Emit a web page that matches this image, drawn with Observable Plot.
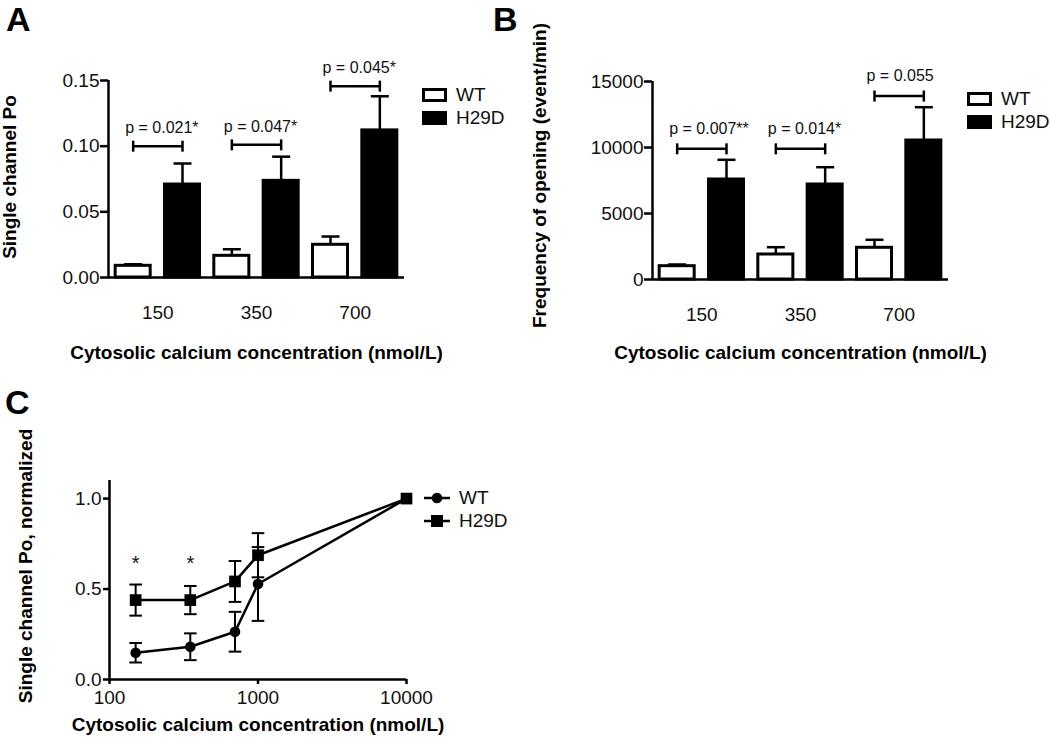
<!DOCTYPE html>
<html>
<head>
<meta charset="utf-8">
<script src="https://cdn.jsdelivr.net/npm/d3@7"></script>
<script src="https://cdn.jsdelivr.net/npm/@observablehq/plot@0.6"></script>
<style>
  html, body { margin: 0; padding: 0; background: #fff; }
  #root { position: relative; width: 1050px; height: 739px; overflow: hidden; background: #fff;
          font-family: "Liberation Sans", Arial, Helvetica, sans-serif; color: #000; }
  .panel { position: absolute; }
  .panel svg { background: transparent !important; }
  .tag { position: absolute; font-weight: bold; font-size: 34px; line-height: 34px; }
  .legend { position: absolute; font-size: 19px; line-height: 19px; color: #111; }
  .legend .row { position: absolute; left: 0; display: flex; align-items: center; white-space: nowrap; }
  .legend .box { box-sizing: border-box; width: 25px; height: 14px; border: 3px solid #000; }
</style>
</head>
<body>
<div id="root">
  <div class="panel" id="pa" style="left:0;top:0;"></div>
  <div class="panel" id="pb" style="left:480px;top:0;"></div>
  <div class="panel" id="pc" style="left:0;top:380px;"></div>
</div>
<script>
// ---------------- data ----------------
const concentrations = [150, 350, 700];
const seriesNames = ["WT", "H29D"];

// Panel A: single channel Po
const poWT = [0.0089, 0.0165, 0.0249];
const poWTErr = [0.0012, 0.0050, 0.0063];
const poH29D = [0.0708, 0.0736, 0.1120];
const poH29DErr = [0.0160, 0.0184, 0.0260];
const poPText = ["p = 0.021*", "p = 0.047*", "p = 0.045*"];
const poBracketY = [0.100, 0.101, 0.1457];
const poTicks = [0, 0.05, 0.10, 0.15];

// Panel B: frequency of opening
const freqWT = [1008, 1894, 2402];
const freqWTErr = [130, 553, 606];
const freqH29D = [7576, 7197, 10530];
const freqH29DErr = [1492, 1310, 2523];
const freqPText = ["p = 0.007**", "p = 0.014*", "p = 0.055"];
const freqBracketY = [9900, 9900, 13900];
const freqTicks = [0, 5000, 10000, 15000];

// Panel C: normalized Po vs concentration (log)
const normConc = [150, 350, 700, 1000, 10000];
const normWT = [0.148, 0.181, 0.264, 0.528, 1.0];
const normWTErr = [0.054, 0.074, 0.110, 0.204, 0];
const normH29D = [0.439, 0.439, 0.542, 0.687, 1.0];
const normH29DErr = [0.086, 0.078, 0.113, 0.122, 0];
const starConc = [150, 350];
const starLevel = 0.64;
const normYTicks = [0, 0.5, 1.0];
const normXTicks = [100, 1000, 10000];

const xTitle = "Cytosolic calcium concentration (nmol/L)";

// ---------------- helpers ----------------
const hline = {draw(ctx, size) { const w = Math.sqrt(size / Math.PI); ctx.moveTo(-w, 0); ctx.lineTo(w, 0); }};
const vline = {draw(ctx, size) { const h = Math.sqrt(size / Math.PI); ctx.moveTo(0, -h); ctx.lineTo(0, h); }};
const FONT = "Liberation Sans, Arial, Helvetica, sans-serif";
const BAR_HALF = 0.355;

function barPanel(o) {
  const rows = [];
  concentrations.forEach((c, i) => {
    rows.push({conc: c, series: "WT", slot: 2 * i, value: o.wt[i], err: o.wtErr[i]});
    rows.push({conc: c, series: "H29D", slot: 2 * i + 1, value: o.h29d[i], err: o.h29dErr[i]});
  });
  const brackets = concentrations.map((c, i) => ({x1: 2 * i, x2: 2 * i + 1, y: o.bracketY[i], text: o.pText[i]}));
  const ends = brackets.flatMap(b => [{x: b.x1, y: b.y}, {x: b.x2, y: b.y}]);
  const yMax = o.ticks[o.ticks.length - 1];
  return Plot.plot({
    width: o.width, height: o.height,
    marginLeft: o.ml, marginRight: o.mr, marginTop: o.mt, marginBottom: o.mb,
    style: {fontFamily: FONT, fontSize: "19px", color: "#000", background: "transparent"},
    x: {type: "linear", domain: [-0.5, 5.5]},
    y: {domain: [0, yMax]},
    color: {domain: seriesNames, range: ["#fff", "#000"]},
    marks: [
      Plot.ruleX(rows, {x: "slot", y1: "value", y2: d => d.value + d.err, stroke: "#000", strokeWidth: 2.5}),
      Plot.rect(rows, {x1: d => d.slot - BAR_HALF, x2: d => d.slot + BAR_HALF, y1: 0, y2: "value",
        fill: "series", stroke: "#000", strokeWidth: 3}),
      Plot.dot(rows, {x: "slot", y: d => d.value + d.err, symbol: hline, r: 9, fill: "none", stroke: "#000", strokeWidth: 2.5}),
      Plot.ruleY(brackets, {x1: "x1", x2: "x2", y: "y", stroke: "#000", strokeWidth: 2.5}),
      Plot.dot(ends, {x: "x", y: "y", symbol: vline, r: 5.5, fill: "none", stroke: "#000", strokeWidth: 2.5}),
      Plot.text(brackets, {x: "x1", y: "y", text: "text", textAnchor: "start", dx: -8, dy: o.textDy, fontSize: 16, fill: "#111"}),
      Plot.ruleY([0], {stroke: "#000", strokeWidth: 2.5}),
      Plot.ruleX([-0.5], {y1: 0, y2: yMax, stroke: "#000", strokeWidth: 2.5}),
      Plot.axisY(o.ticks, {tickFormat: o.fmt, tickSize: 8, tickPadding: 1, strokeWidth: 2.5, fontSize: 19, label: null, fill: "#111"}),
      Plot.axisX([0.5, 2.5, 4.5], {tickFormat: d => String(concentrations[Math.round((d - 0.5) / 2)]),
        tickSize: 0, tickPadding: 28, fontSize: 19, label: null, fill: "#111"}),
      Plot.text([o.yLabel], {frameAnchor: "left", textAnchor: "middle", rotate: -90, dx: o.yLabelDx, dy: o.yLabelDy,
        fontWeight: "bold", fontSize: 19, fill: "#000"}),
      Plot.text([xTitle], {frameAnchor: "bottom", textAnchor: "middle", dy: o.xLabelDy, fontWeight: "bold", fontSize: 19, fill: "#000"})
    ]
  });
}

document.getElementById("pa").appendChild(barPanel({
  wt: poWT, wtErr: poWTErr, h29d: poH29D, h29dErr: poH29DErr, pText: poPText, bracketY: poBracketY,
  ticks: poTicks, fmt: d3.format(".2f"), yLabel: "Single channel Po",
  width: 480, height: 380, ml: 108, mr: 76, mt: 80, mb: 103, textDy: -18,
  yLabelDx: -99, yLabelDy: -2, xLabelDy: 81
}));

document.getElementById("pb").appendChild(barPanel({
  wt: freqWT, wtErr: freqWTErr, h29d: freqH29D, h29dErr: freqH29DErr, pText: freqPText, bracketY: freqBracketY,
  ticks: freqTicks, fmt: d3.format("d"), yLabel: "Frequency of opening (event/min)",
  width: 570, height: 380, ml: 172, mr: 102, mt: 81, mb: 101, textDy: -20,
  yLabelDx: -113, yLabelDy: -5, xLabelDy: 79
}));

// Panel C
const normRows = [];
normConc.forEach((c, i) => {
  normRows.push({conc: c, series: "WT", value: normWT[i], err: normWTErr[i]});
  normRows.push({conc: c, series: "H29D", value: normH29D[i], err: normH29DErr[i]});
});
const errRows = normRows.filter(d => d.err > 0);
const capRows = errRows.flatMap(d => [{conc: d.conc, y: d.value - d.err}, {conc: d.conc, y: d.value + d.err}]);

document.getElementById("pc").appendChild(Plot.plot({
  width: 560, height: 359, marginLeft: 109, marginRight: 154, marginTop: 100, marginBottom: 60,
  style: {fontFamily: FONT, fontSize: "19px", color: "#000", background: "transparent"},
  x: {type: "log", domain: [100, 10000]},
  y: {domain: [0, 1.1]},
  marks: [
    Plot.ruleX(errRows, {x: "conc", y1: d => d.value - d.err, y2: d => d.value + d.err, stroke: "#000", strokeWidth: 2}),
    Plot.dot(capRows, {x: "conc", y: "y", symbol: hline, r: 6.3, fill: "none", stroke: "#000", strokeWidth: 2}),
    Plot.line(normRows, {x: "conc", y: "value", z: "series", stroke: "#000", strokeWidth: 2.5}),
    Plot.dot(normRows.filter(d => d.series === "WT"), {x: "conc", y: "value", symbol: "circle", r: 5.3, fill: "#000"}),
    Plot.dot(normRows.filter(d => d.series === "H29D"), {x: "conc", y: "value", symbol: "square", r: 6.6, fill: "#000"}),
    Plot.text(starConc, {x: d => d, y: () => starLevel, text: () => "*", fontSize: 20, fill: "#111"}),
    Plot.ruleY([0], {stroke: "#000", strokeWidth: 2.5}),
    Plot.ruleX([100], {y1: 0, y2: 1.1, stroke: "#000", strokeWidth: 2.5}),
    Plot.axisY(normYTicks, {tickFormat: d3.format(".1f"), tickSize: 6, tickPadding: 2, strokeWidth: 2.5, fontSize: 19, label: null, fill: "#111"}),
    Plot.axisX(normXTicks, {tickFormat: d => String(d), tickSize: 5, tickPadding: 6, strokeWidth: 2.5, fontSize: 19, label: null, fill: "#111"}),
    Plot.text(["Single channel Po, normalized"], {frameAnchor: "left", textAnchor: "middle", rotate: -90, dx: -84, dy: -14,
      fontWeight: "bold", fontSize: 19, fill: "#000"}),
    Plot.text([xTitle], {frameAnchor: "bottom", textAnchor: "middle", dy: 51, fontWeight: "bold", fontSize: 19, fill: "#000"})
  ]
}));

// ---------------- tags & legends ----------------
const root = document.getElementById("root");
function addTag(t, left, top) {
  const d = document.createElement("div");
  d.className = "tag"; d.textContent = t;
  d.style.left = left + "px"; d.style.top = top + "px";
  root.appendChild(d);
}
addTag("A", 6, 2);
addTag("B", 493, 2);
addTag("C", 5, 384.5);

function boxLegend(left, top) {
  const lg = document.createElement("div");
  lg.className = "legend"; lg.style.left = left + "px"; lg.style.top = top + "px";
  seriesNames.forEach((s, i) => {
    const row = document.createElement("div");
    row.className = "row"; row.style.top = (i * 23) + "px";
    const b = document.createElement("div");
    b.className = "box"; b.style.background = i === 0 ? "#fff" : "#000";
    const t = document.createElement("span");
    t.textContent = s; t.style.marginLeft = "9px";
    row.appendChild(b); row.appendChild(t);
    lg.appendChild(row);
  });
  root.appendChild(lg);
}
boxLegend(422, 85);
boxLegend(967, 89);

function lineLegend(left, top) {
  const lg = document.createElement("div");
  lg.className = "legend"; lg.style.left = left + "px"; lg.style.top = top + "px";
  seriesNames.forEach((s, i) => {
    const row = document.createElement("div");
    row.className = "row"; row.style.top = (i * 23) + "px";
    const ns = "http://www.w3.org/2000/svg";
    const sv = document.createElementNS(ns, "svg");
    sv.setAttribute("width", "26"); sv.setAttribute("height", "14");
    const ln = document.createElementNS(ns, "line");
    ln.setAttribute("x1", "0"); ln.setAttribute("x2", "26"); ln.setAttribute("y1", "7"); ln.setAttribute("y2", "7");
    ln.setAttribute("stroke", "#000"); ln.setAttribute("stroke-width", "2.5");
    sv.appendChild(ln);
    if (i === 0) {
      const c = document.createElementNS(ns, "circle");
      c.setAttribute("cx", "13"); c.setAttribute("cy", "7"); c.setAttribute("r", "5.3");
      sv.appendChild(c);
    } else {
      const r = document.createElementNS(ns, "rect");
      r.setAttribute("x", "7"); r.setAttribute("y", "1"); r.setAttribute("width", "12"); r.setAttribute("height", "12");
      sv.appendChild(r);
    }
    const t = document.createElement("span");
    t.textContent = s; t.style.marginLeft = "9px";
    row.appendChild(sv); row.appendChild(t);
    lg.appendChild(row);
  });
  root.appendChild(lg);
}
lineLegend(424, 488);
</script>
</body>
</html>
